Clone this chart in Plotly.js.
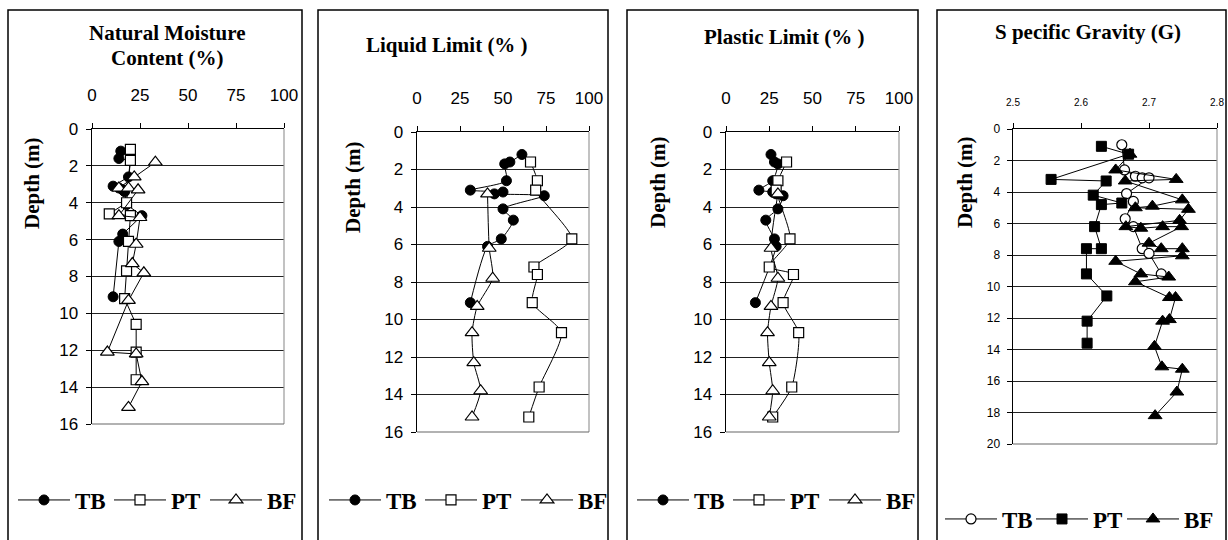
<!DOCTYPE html>
<html><head><meta charset="utf-8">
<script src="https://cdn.plot.ly/plotly-3.0.1.min.js"></script>
<style>html,body{margin:0;padding:0;background:#fff;overflow:hidden}#chart{width:1228px;height:540px}</style>
</head><body><div id="chart"></div>
<script>
// ---------- DATA ----------
const seriesNames = ["TB", "PT", "BF"];
const pctTicks = [0, 25, 50, 75, 100];
const gTicks = [2.5, 2.6, 2.7, 2.8];
const gTickText = ["2.5", "2.6", "2.7", "2.8"];

// Natural moisture content (%)
const nmcTbDepth = [1.2, 1.6, 1.7, 2.6, 3.1, 3.2, 3.3, 3.4, 4.1, 4.7, 5.7, 6.1, 9.1];
const nmcTbValue = [15, 14, 20, 19, 11, 14, 16, 17, 18, 26, 16, 14, 11];
const nmcPtDepth = [1.1, 1.7, 4.0, 4.6, 4.7, 6.1, 7.7, 9.2, 10.6, 12.1, 13.6];
const nmcPtValue = [20, 20, 18, 9, 20, 19, 18, 17, 23, 23, 23];
const nmcBfDepth = [1.8, 2.6, 3.2, 3.2, 3.3, 4.7, 4.8, 6.25, 7.3, 7.8, 9.3, 12.1, 12.2, 13.7, 15.1];
const nmcBfValue = [33, 22, 14, 19, 24, 14, 25, 23, 21, 27, 19, 8, 23, 26, 19];

// Liquid limit (%)
const llTbDepth = [1.2, 1.6, 1.7, 2.6, 3.1, 3.2, 3.3, 3.4, 4.1, 4.7, 5.7, 6.1, 9.1];
const llTbValue = [61, 54, 51, 52, 31, 50, 45, 74, 50, 56, 49, 41, 31];
const llPtDepth = [1.6, 2.6, 3.1, 5.7, 7.2, 7.6, 9.1, 10.7, 13.6, 15.2];
const llPtValue = [66, 70, 69, 90, 68, 70, 67, 84, 71, 65];
const llBfDepth = [3.3, 6.2, 7.8, 9.3, 10.7, 12.3, 13.8, 15.2];
const llBfValue = [41, 42, 44, 35, 32, 33, 37, 32];

// Plastic limit (%)
const plTbDepth = [1.2, 1.6, 1.7, 2.6, 3.1, 3.2, 3.3, 3.4, 4.1, 4.7, 5.7, 6.1, 9.1];
const plTbValue = [26, 28, 30, 27, 19, 27, 29, 33, 30, 23, 28, 29, 17];
const plPtDepth = [1.6, 2.6, 3.1, 5.7, 7.2, 7.6, 9.1, 10.7, 13.6, 15.2];
const plPtValue = [35, 30, 29, 37, 25, 39, 33, 42, 38, 27];
const plBfDepth = [3.3, 6.2, 7.8, 9.3, 10.7, 12.3, 13.8, 15.2];
const plBfValue = [30, 26, 30, 26, 24, 25, 27, 25];

// Specific gravity (G)
const gTbDepth = [1.0, 2.6, 3.0, 3.1, 3.1, 4.1, 4.6, 5.7, 6.2, 7.6, 7.9, 9.2];
const gTbValue = [2.66, 2.664, 2.68, 2.69, 2.70, 2.667, 2.677, 2.665, 2.677, 2.69, 2.70, 2.718];
const gPtDepth = [1.1, 1.6, 3.2, 3.3, 4.2, 4.7, 4.8, 6.2, 7.6, 7.6, 9.2, 10.6, 12.2, 13.6];
const gPtValue = [2.63, 2.67, 2.556, 2.637, 2.618, 2.66, 2.63, 2.62, 2.63, 2.608, 2.608, 2.638, 2.609, 2.609];
const gBfDepth = [1.6, 2.6, 3.2, 3.3, 4.5, 4.9, 5.0, 5.1, 5.8, 6.2, 6.3, 6.2, 6.2, 7.25, 7.6, 7.6, 8.05, 8.4, 9.2, 9.4, 9.7, 10.7, 10.7, 12.1, 12.2, 13.8, 15.1, 15.25, 16.7, 18.2];
const gBfValue = [2.672, 2.651, 2.74, 2.665, 2.749, 2.705, 2.68, 2.758, 2.745, 2.666, 2.688, 2.72, 2.748, 2.70, 2.718, 2.749, 2.749, 2.651, 2.688, 2.729, 2.68, 2.73, 2.739, 2.73, 2.72, 2.708, 2.719, 2.749, 2.741, 2.709];

const panelTitles = [["<b>Natural Moisture</b>", "<b>Content (%)</b>"], ["<b>Liquid Limit (% )</b>"], ["<b>Plastic Limit (% )</b>"], ["<b>S pecific Gravity (G)</b>"]];
const depthTitle = "<b>Depth (m)</b>";

// ---------- LAYOUT HELPERS ----------
const W = 1228, H = 540;
const SERIF = '"Liberation Serif","Times New Roman",serif';
const SANS = '"Liberation Sans",Arial,sans-serif';
const px = v => v / W;
const py = v => 1 - v / H;

const panels = [
  {box:[8,302], plotX:[92,284], plotY:[129,424], xr:[0,100], xt:pctTicks, xtt:null, yr:[16,0], yFs:17, xFs:17, xStand:15,
   titleX:167, titleY:[33,58], depth:[32,183], legX:13, legY:500, entry:29, smooth:false},
  {box:[318,608], plotX:[417,589], plotY:[132,432], xr:[0,100], xt:pctTicks, xtt:null, yr:[16,0], yFs:17, xFs:17, xStand:15,
   titleX:447, titleY:[45], depth:[353,187], legX:324, legY:500, entry:29, smooth:true},
  {box:[627,918], plotX:[726,899], plotY:[132,432], xr:[0,100], xt:pctTicks, xtt:null, yr:[16,0], yFs:17, xFs:17, xStand:15,
   titleX:784, titleY:[37], depth:[658,182], legX:632, legY:500, entry:29, smooth:true},
  {box:[937,1226], plotX:[1013,1217], plotY:[129,444], xr:[2.5,2.8], xt:gTicks, xtt:gTickText, yr:[20,0], yFs:12, xFs:10, xStand:13,
   titleX:1088, titleY:[32], depth:[965,182], legX:940, legY:519, entry:24, smooth:false}
];

const data = [
  [nmcTbDepth, nmcTbValue, nmcPtDepth, nmcPtValue, nmcBfDepth, nmcBfValue],
  [llTbDepth, llTbValue, llPtDepth, llPtValue, llBfDepth, llBfValue],
  [plTbDepth, plTbValue, plPtDepth, plPtValue, plBfDepth, plBfValue],
  [gTbDepth, gTbValue, gPtDepth, gPtValue, gBfDepth, gBfValue]
];

function markerFor(p, s) {
  if (p < 3) {
    if (s === 0) return {symbol:'circle', size:10, color:'#000', line:{color:'#000', width:1}};
    if (s === 1) return {symbol:'square', size:10, color:'#fff', line:{color:'#000', width:1.2}};
    return {symbol:'triangle-up', size:12, color:'#fff', line:{color:'#000', width:1.2}};
  } else {
    if (s === 0) return {symbol:'circle', size:10, color:'#fff', line:{color:'#000', width:1.2}};
    if (s === 1) return {symbol:'square', size:10, color:'#000', line:{color:'#000', width:1}};
    return {symbol:'triangle-up', size:12, color:'#000', line:{color:'#000', width:1}};
  }
}

const traces = [];
const layout = {
  width: W, height: H, margin:{l:0, r:0, t:0, b:0, autoexpand:false},
  paper_bgcolor:'#fff', plot_bgcolor:'#fff', showlegend:true,
  annotations: [], shapes: []
};

panels.forEach((P, i) => {
  const sfx = i === 0 ? '' : String(i + 1);
  const d = data[i];
  for (let s = 0; s < 3; s++) {
    traces.push({
      type:'scatter', mode:'lines+markers', name: seriesNames[s],
      x: d[s*2+1], y: d[s*2],
      xaxis:'x' + sfx, yaxis:'y' + sfx,
      legend: 'legend' + sfx,
      line: P.smooth ? {color:'#000', width:1, shape:'spline', smoothing:0.6} : {color:'#000', width:1},
      marker: markerFor(i, s), cliponaxis:false, hoverinfo:'skip'
    });
  }
  layout['xaxis' + sfx] = {
    domain:[px(P.plotX[0]), px(P.plotX[1])], anchor:'y' + sfx, side:'top',
    range:P.xr, tickmode:'array', tickvals:P.xt, ticktext:P.xtt || P.xt.map(String),
    showline:true, linecolor:'#000', linewidth:1, ticks:'outside', ticklen:5, tickcolor:'#000',
    showgrid:false, zeroline:false, fixedrange:true, ticklabelstandoff:P.xStand,
    tickfont:{family:SANS, size:P.xFs, color:'#000'}
  };
  layout['yaxis' + sfx] = {
    domain:[py(P.plotY[1]), py(P.plotY[0])], anchor:'x' + sfx,
    range:P.yr, dtick:2, tick0:0,
    showline:true, linecolor:'#000', linewidth:1.5, ticks:'outside', ticklen:5, tickcolor:'#000',
    showgrid:true, gridcolor:'#222', gridwidth:1, zeroline:false, fixedrange:true, ticklabelstandoff:4,
    tickfont:{family:SANS, size:P.yFs, color:'#000'}
  };
  layout['legend' + sfx] = {
    orientation:'h', x:px(P.legX), y:py(P.legY), xanchor:'left', yanchor:'middle',
    font:{family:SERIF, size:23, color:'#000', weight:'bold'},
    itemwidth:52, entrywidth:P.entry, entrywidthmode:'pixels', bgcolor:'rgba(0,0,0,0)', borderwidth:0,
    traceorder:'normal'
  };
  layout.shapes.push({type:'rect', xref:'paper', yref:'paper', x0:px(P.box[0]), x1:px(P.box[1]), y0:-0.05, y1:py(10),
    line:{color:'#000', width:1.5}, fillcolor:'rgba(0,0,0,0)'});
  layout.shapes.push({type:'line', xref:'x' + sfx + ' domain', yref:'y' + sfx + ' domain', x0:1, x1:1, y0:0, y1:1,
    line:{color:'#999', width:1.2}});
  layout.shapes.push({type:'line', xref:'x' + sfx + ' domain', yref:'y' + sfx + ' domain', x0:0, x1:1, y0:0, y1:0,
    line:{color:'#666', width:1.2}});
  panelTitles[i].forEach((t, k) => {
    layout.annotations.push({text:t, xref:'paper', yref:'paper', x:px(P.titleX), y:py(P.titleY[k]),
      xanchor:'center', yanchor:'middle', showarrow:false, font:{family:SERIF, size:21, color:'#000'}});
  });
  layout.annotations.push({text:depthTitle, xref:'paper', yref:'paper', x:px(P.depth[0]), y:py(P.depth[1]),
    xanchor:'center', yanchor:'middle', textangle:-90, showarrow:false, font:{family:SERIF, size:21, color:'#000'}});
});

Plotly.newPlot('chart', traces, layout, {staticPlot:true, displayModeBar:false});
</script>
</body></html>
